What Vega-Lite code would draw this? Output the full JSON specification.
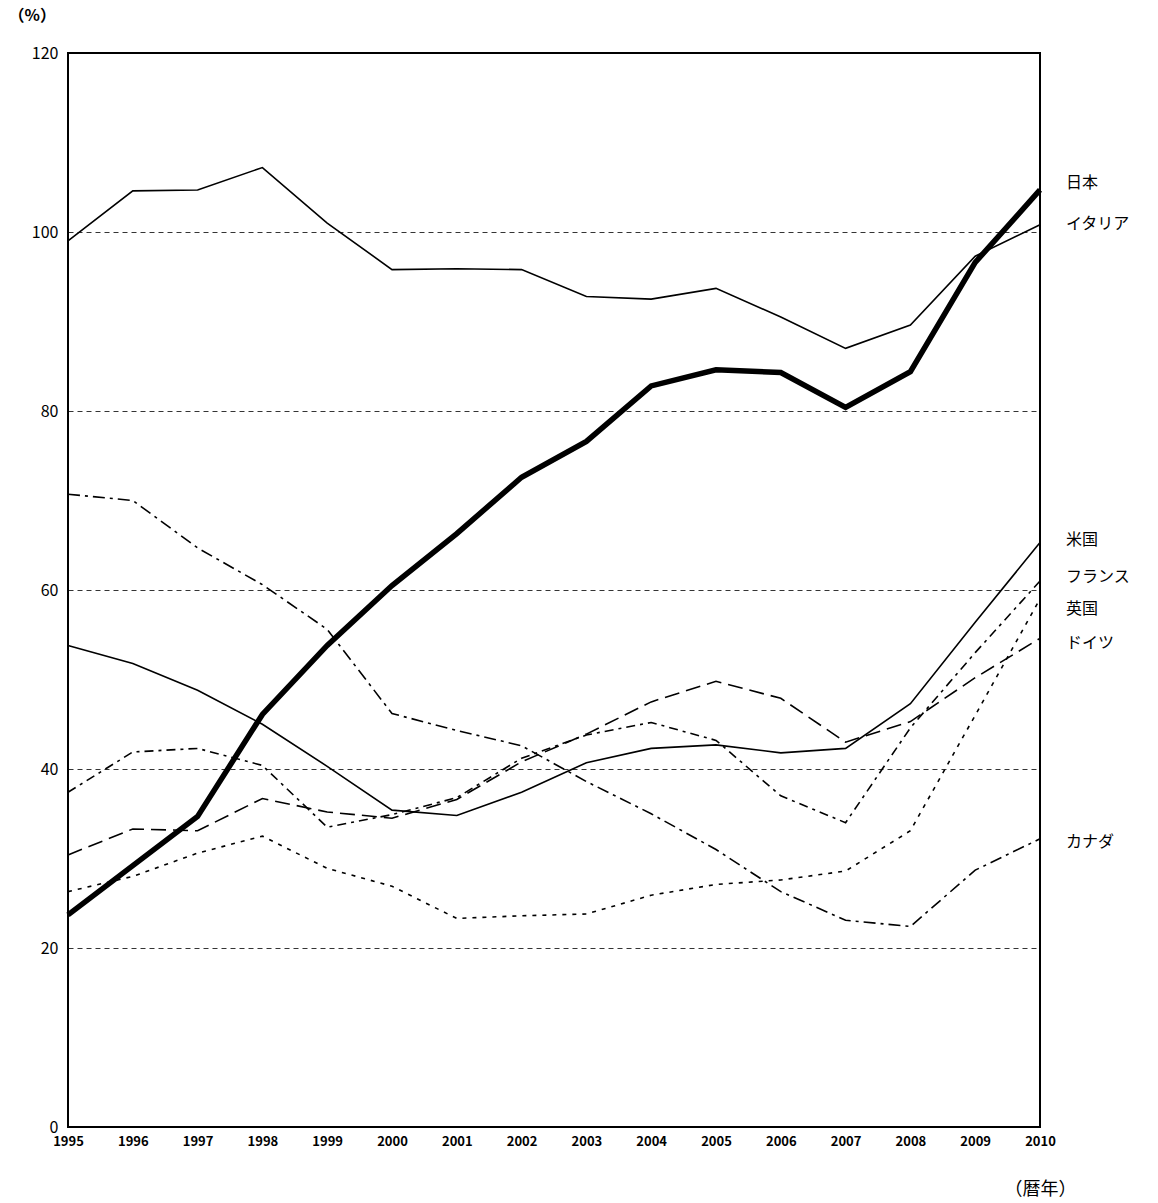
{
  "$schema": "https://vega.github.io/schema/vega-lite/v6.json",
  "width": 972,
  "height": 1074,
  "autosize": "none",
  "padding": {"left": 68, "top": 53, "right": 118, "bottom": 76},
  "config": {
    "view": {"stroke": "black", "strokeWidth": 2},
    "font": "Noto Sans CJK JP"
  },
  "datasets": {
    "series": [
      {"country": "日本", "year": 1995, "value": 23.7}, {"country": "日本", "year": 1996, "value": 29.2},
      {"country": "日本", "year": 1997, "value": 34.7}, {"country": "日本", "year": 1998, "value": 46.1},
      {"country": "日本", "year": 1999, "value": 53.8}, {"country": "日本", "year": 2000, "value": 60.5},
      {"country": "日本", "year": 2001, "value": 66.3}, {"country": "日本", "year": 2002, "value": 72.6},
      {"country": "日本", "year": 2003, "value": 76.6}, {"country": "日本", "year": 2004, "value": 82.8},
      {"country": "日本", "year": 2005, "value": 84.6}, {"country": "日本", "year": 2006, "value": 84.3},
      {"country": "日本", "year": 2007, "value": 80.4}, {"country": "日本", "year": 2008, "value": 84.4},
      {"country": "日本", "year": 2009, "value": 96.6}, {"country": "日本", "year": 2010, "value": 104.7},
      {"country": "イタリア", "year": 1995, "value": 99.0}, {"country": "イタリア", "year": 1996, "value": 104.6},
      {"country": "イタリア", "year": 1997, "value": 104.7}, {"country": "イタリア", "year": 1998, "value": 107.2},
      {"country": "イタリア", "year": 1999, "value": 101.0}, {"country": "イタリア", "year": 2000, "value": 95.8},
      {"country": "イタリア", "year": 2001, "value": 95.9}, {"country": "イタリア", "year": 2002, "value": 95.8},
      {"country": "イタリア", "year": 2003, "value": 92.8}, {"country": "イタリア", "year": 2004, "value": 92.5},
      {"country": "イタリア", "year": 2005, "value": 93.7}, {"country": "イタリア", "year": 2006, "value": 90.5},
      {"country": "イタリア", "year": 2007, "value": 87.0}, {"country": "イタリア", "year": 2008, "value": 89.6},
      {"country": "イタリア", "year": 2009, "value": 97.3}, {"country": "イタリア", "year": 2010, "value": 100.8},
      {"country": "米国", "year": 1995, "value": 53.8}, {"country": "米国", "year": 1996, "value": 51.8},
      {"country": "米国", "year": 1997, "value": 48.8}, {"country": "米国", "year": 1998, "value": 45.0},
      {"country": "米国", "year": 1999, "value": 40.3}, {"country": "米国", "year": 2000, "value": 35.4},
      {"country": "米国", "year": 2001, "value": 34.8}, {"country": "米国", "year": 2002, "value": 37.4},
      {"country": "米国", "year": 2003, "value": 40.7}, {"country": "米国", "year": 2004, "value": 42.3},
      {"country": "米国", "year": 2005, "value": 42.7}, {"country": "米国", "year": 2006, "value": 41.8},
      {"country": "米国", "year": 2007, "value": 42.3}, {"country": "米国", "year": 2008, "value": 47.3},
      {"country": "米国", "year": 2009, "value": 56.4}, {"country": "米国", "year": 2010, "value": 65.3},
      {"country": "カナダ", "year": 1995, "value": 70.7}, {"country": "カナダ", "year": 1996, "value": 70.0},
      {"country": "カナダ", "year": 1997, "value": 64.7}, {"country": "カナダ", "year": 1998, "value": 60.6},
      {"country": "カナダ", "year": 1999, "value": 55.6}, {"country": "カナダ", "year": 2000, "value": 46.2},
      {"country": "カナダ", "year": 2001, "value": 44.3}, {"country": "カナダ", "year": 2002, "value": 42.6},
      {"country": "カナダ", "year": 2003, "value": 38.6}, {"country": "カナダ", "year": 2004, "value": 35.0},
      {"country": "カナダ", "year": 2005, "value": 31.0}, {"country": "カナダ", "year": 2006, "value": 26.3},
      {"country": "カナダ", "year": 2007, "value": 23.1}, {"country": "カナダ", "year": 2008, "value": 22.4},
      {"country": "カナダ", "year": 2009, "value": 28.7}, {"country": "カナダ", "year": 2010, "value": 32.2},
      {"country": "フランス", "year": 1995, "value": 37.4}, {"country": "フランス", "year": 1996, "value": 41.9},
      {"country": "フランス", "year": 1997, "value": 42.3}, {"country": "フランス", "year": 1998, "value": 40.4},
      {"country": "フランス", "year": 1999, "value": 33.5}, {"country": "フランス", "year": 2000, "value": 34.9},
      {"country": "フランス", "year": 2001, "value": 36.8}, {"country": "フランス", "year": 2002, "value": 41.2},
      {"country": "フランス", "year": 2003, "value": 43.8}, {"country": "フランス", "year": 2004, "value": 45.2},
      {"country": "フランス", "year": 2005, "value": 43.2}, {"country": "フランス", "year": 2006, "value": 37.0},
      {"country": "フランス", "year": 2007, "value": 34.0}, {"country": "フランス", "year": 2008, "value": 44.6},
      {"country": "フランス", "year": 2009, "value": 53.0}, {"country": "フランス", "year": 2010, "value": 61.0},
      {"country": "ドイツ", "year": 1995, "value": 30.4}, {"country": "ドイツ", "year": 1996, "value": 33.3},
      {"country": "ドイツ", "year": 1997, "value": 33.1}, {"country": "ドイツ", "year": 1998, "value": 36.7},
      {"country": "ドイツ", "year": 1999, "value": 35.2}, {"country": "ドイツ", "year": 2000, "value": 34.5},
      {"country": "ドイツ", "year": 2001, "value": 36.6}, {"country": "ドイツ", "year": 2002, "value": 40.8},
      {"country": "ドイツ", "year": 2003, "value": 43.9}, {"country": "ドイツ", "year": 2004, "value": 47.5},
      {"country": "ドイツ", "year": 2005, "value": 49.8}, {"country": "ドイツ", "year": 2006, "value": 47.9},
      {"country": "ドイツ", "year": 2007, "value": 43.0}, {"country": "ドイツ", "year": 2008, "value": 45.3},
      {"country": "ドイツ", "year": 2009, "value": 50.2}, {"country": "ドイツ", "year": 2010, "value": 54.6},
      {"country": "英国", "year": 1995, "value": 26.3}, {"country": "英国", "year": 1996, "value": 28.0},
      {"country": "英国", "year": 1997, "value": 30.6}, {"country": "英国", "year": 1998, "value": 32.5},
      {"country": "英国", "year": 1999, "value": 28.9}, {"country": "英国", "year": 2000, "value": 26.9},
      {"country": "英国", "year": 2001, "value": 23.3}, {"country": "英国", "year": 2002, "value": 23.6},
      {"country": "英国", "year": 2003, "value": 23.8}, {"country": "英国", "year": 2004, "value": 25.9},
      {"country": "英国", "year": 2005, "value": 27.1}, {"country": "英国", "year": 2006, "value": 27.6},
      {"country": "英国", "year": 2007, "value": 28.6}, {"country": "英国", "year": 2008, "value": 33.1},
      {"country": "英国", "year": 2009, "value": 46.0}, {"country": "英国", "year": 2010, "value": 59.0}
    ],
    "labels": [
      {"country": "日本", "year": 2010, "value": 105.5},
      {"country": "イタリア", "year": 2010, "value": 100.9},
      {"country": "米国", "year": 2010, "value": 65.6},
      {"country": "フランス", "year": 2010, "value": 61.5},
      {"country": "英国", "year": 2010, "value": 57.9},
      {"country": "ドイツ", "year": 2010, "value": 54.1},
      {"country": "カナダ", "year": 2010, "value": 31.8}
    ]
  },
  "encoding": {
    "x": {
      "field": "year", "type": "quantitative",
      "scale": {"domain": [1995, 2010], "nice": false, "zero": false},
      "axis": {
        "values": [1995, 1996, 1997, 1998, 1999, 2000, 2001, 2002, 2003, 2004, 2005, 2006, 2007, 2008, 2009, 2010],
        "format": "d", "grid": false, "domain": false, "ticks": false,
        "labelFlush": false, "labelBound": false, "labelOverlap": false,
        "labelPadding": 8, "labelFontSize": 13, "labelFontWeight": "bold", "labelColor": "black",
        "title": "（暦年）", "titleX": 972, "titleY": 62, "titleAlign": "center", "titleBaseline": "middle",
        "titleFontSize": 18, "titleFontWeight": "normal", "titleColor": "black"
      }
    },
    "y": {
      "field": "value", "type": "quantitative",
      "scale": {"domain": [0, 120], "nice": false},
      "axis": {
        "values": [0, 20, 40, 60, 80, 100, 120],
        "grid": true, "gridDash": [5, 4], "gridColor": "black", "gridWidth": 0.8,
        "domain": false, "ticks": false, "labelPadding": 10,
        "labelFontSize": 16, "labelColor": "black",
        "title": "（%）", "titleAngle": 0, "titleX": -60, "titleY": -30,
        "titleAlign": "left", "titleFontSize": 16, "titleFontWeight": "bold", "titleColor": "black"
      }
    }
  },
  "layer": [
    {
      "data": {"name": "series"},
      "transform": [{"filter": "datum.country == '日本'"}],
      "mark": {"type": "line", "color": "black", "strokeWidth": 5.5}
    },
    {
      "data": {"name": "series"},
      "transform": [{"filter": "datum.country == 'イタリア' || datum.country == '米国'"}],
      "mark": {"type": "line", "color": "black", "strokeWidth": 1.6},
      "encoding": {"detail": {"field": "country"}}
    },
    {
      "data": {"name": "series"},
      "transform": [{"filter": "datum.country == 'カナダ'"}],
      "mark": {"type": "line", "color": "black", "strokeWidth": 1.6, "strokeDash": [12, 5, 3, 5]}
    },
    {
      "data": {"name": "series"},
      "transform": [{"filter": "datum.country == 'フランス'"}],
      "mark": {"type": "line", "color": "black", "strokeWidth": 1.6, "strokeDash": [9, 5, 3, 5]}
    },
    {
      "data": {"name": "series"},
      "transform": [{"filter": "datum.country == 'ドイツ'"}],
      "mark": {"type": "line", "color": "black", "strokeWidth": 1.6, "strokeDash": [15, 7]}
    },
    {
      "data": {"name": "series"},
      "transform": [{"filter": "datum.country == '英国'"}],
      "mark": {"type": "line", "color": "black", "strokeWidth": 1.6, "strokeDash": [4, 6]}
    },
    {
      "data": {"name": "labels"},
      "mark": {"type": "text", "align": "left", "baseline": "middle", "fontSize": 16, "dx": 26, "clip": false},
      "encoding": {
        "text": {"field": "country"}
      }
    }
  ]
}
